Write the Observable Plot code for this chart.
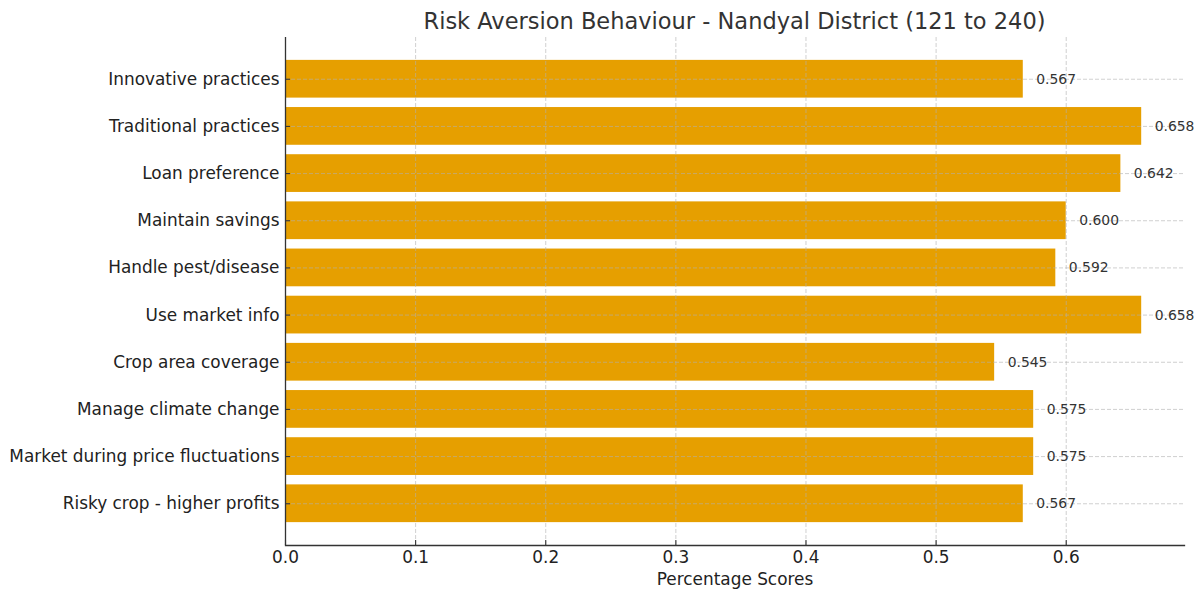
<!DOCTYPE html>
<html>
<head>
<meta charset="utf-8">
<script src="https://cdn.jsdelivr.net/npm/d3@7"></script>
<script src="https://cdn.jsdelivr.net/npm/@observablehq/plot@0.6"></script>
<style>
  html, body { margin: 0; padding: 0; background: #fff; }
  #wrap { width: 1202px; height: 589px; overflow: hidden; font-family: "DejaVu Sans", sans-serif; }
  #title { height: 37px; box-sizing: border-box; padding-left: 285px; width: 1184px; padding-top: 10px;
           text-align: center; font-size: 22.5px; line-height: 1; color: #333; white-space: nowrap; }
  svg { display: block; }
</style>
</head>
<body>
<div id="wrap">
  <div id="title">Risk Aversion Behaviour - Nandyal District (121 to 240)</div>
  <div id="chart"></div>
</div>
<script>
const categories = [
  "Innovative practices",
  "Traditional practices",
  "Loan preference",
  "Maintain savings",
  "Handle pest/disease",
  "Use market info",
  "Crop area coverage",
  "Manage climate change",
  "Market during price fluctuations",
  "Risky crop - higher profits"
];
const values = [0.567, 0.658, 0.642, 0.600, 0.592, 0.658, 0.545, 0.575, 0.575, 0.567];
const xTicks = [0, 0.1, 0.2, 0.3, 0.4, 0.5, 0.6];
const xLabel = "Percentage Scores";

const data = categories.map((c, i) => ({category: c, value: values[i]}));

const W = 1202, H = 552;
const mL = 285, mR = 18, mT = 0, mB = 44;
const frameW = W - mL - mR, frameH = H - mT - mB;

const chart = Plot.plot({
  width: W,
  height: H,
  marginLeft: mL,
  marginRight: mR,
  marginTop: mT,
  marginBottom: mB,
  style: {fontFamily: "DejaVu Sans, sans-serif", background: "#fff", overflow: "visible"},
  x: {domain: [0, d3.max(values) * 1.05], ticks: xTicks},
  y: {domain: categories, paddingInner: 0.2, paddingOuter: 0.485, round: false},
  marks: [
    Plot.barX(data, {x: "value", y: "category", fill: "#E69F00"}),
    Plot.gridX(xTicks, {stroke: "#b0b0b0", strokeOpacity: 0.6, strokeDasharray: "4,2", strokeWidth: 1}),
    Plot.gridY(categories, {stroke: "#b0b0b0", strokeOpacity: 0.6, strokeDasharray: "4,2", strokeWidth: 1}),
    Plot.text(data, {x: "value", y: "category", text: d => d.value.toFixed(3), dx: 13, textAnchor: "start",
      fontSize: 13.9, fill: "#333"}),
    // inward ticks
    Plot.ruleX(xTicks, {stroke: "#333", strokeWidth: 1.1, insetTop: frameH - 5}),
    Plot.gridY(categories, {stroke: "#333", strokeOpacity: 1, strokeWidth: 1.1, insetRight: frameW - 5}),
    // spines
    Plot.ruleX([0], {stroke: "#333", strokeWidth: 1.3}),
    Plot.frame({anchor: "bottom", stroke: "#333", strokeWidth: 1.3}),
    Plot.axisX(xTicks, {tickSize: 0, tickPadding: 5, fontSize: 16.9, color: "#222",
      tickFormat: d => d.toFixed(1), label: null}),
    Plot.text([xLabel], {frameAnchor: "bottom", dy: 39, fontSize: 16.9, fill: "#222", lineAnchor: "bottom"}),
    Plot.axisY({tickSize: 0, tickPadding: 6, fontSize: 16.9, color: "#222", label: null})
  ]
});
document.getElementById("chart").appendChild(chart);
</script>
</body>
</html>
